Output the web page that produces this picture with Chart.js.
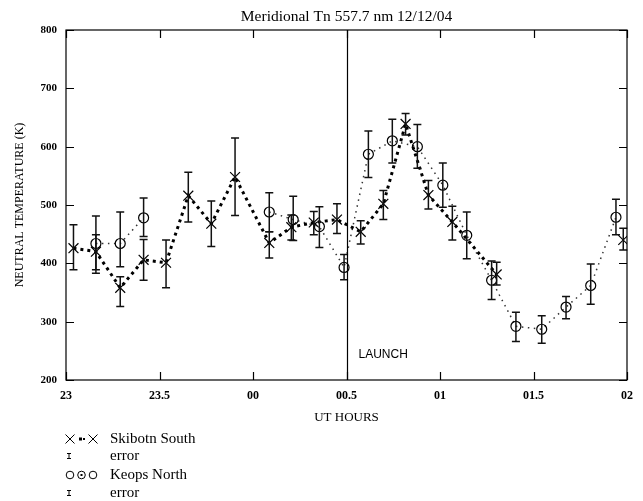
<!DOCTYPE html>
<html>
<head>
<meta charset="utf-8">
<script src="https://cdn.jsdelivr.net/npm/chart.js@4.4.1/dist/chart.umd.min.js"></script>
<style>
html,body{margin:0;padding:0;background:#fff;}
#wrap{width:643px;height:501px;position:relative;}
</style>
</head>
<body>
<div id="wrap"><canvas id="c" width="643" height="501"></canvas></div>
<script>
// ---- data (UT hours expressed as 23..26, i.e. 02 UT = 26) ----
const chartTitle = "Meridional Tn 557.7 nm 12/12/04";
const xTickValues = [23, 23.5, 24, 24.5, 25, 25.5, 26];
const xTickLabels = ["23", "23.5", "00", "00.5", "01", "01.5", "02"];
const yTickValues = [200, 300, 400, 500, 600, 700, 800];
const launchTime = 24.5;

const skibotnTimes = [23.04, 23.16, 23.29, 23.415, 23.535, 23.654, 23.777, 23.904, 24.087, 24.205, 24.325, 24.449, 24.576, 24.697, 24.816, 24.938, 25.066, 25.303, 25.6, 25.98];
const skibotnTemps = [426, 420, 358, 406, 401, 516, 468, 548, 435, 462, 470, 475, 454, 502, 639, 517, 471, 381, null, 440];
const skibotnLow   = [389, 389, 326, 371, 358, 471, 429, 482, 409, 440, 449, 451, 433, 475, 620, 493, 440, 363, null, 423];
const skibotnHigh  = [466, 449, 377, 441, 440, 556, 507, 615, 454, 483, 489, 502, 473, 525, 657, 542, 498, 402, null, 460];

const keopsTimes = [23.16, 23.29, 23.415, 23.75, 24.087, 24.215, 24.355, 24.487, 24.617, 24.745, 24.879, 25.015, 25.143, 25.276, 25.406, 25.544, 25.674, 25.806, 25.941];
const keopsTemps = [434, 434, 478, null, 488, 475, 463, 393, 587, 610, 600, 534, 448, 371, 292, 287, 325, 362, 479];
const keopsLow   = [383, 394, 446, null, 454, 439, 427, 372, 547, 572, 563, 496, 408, 338, 266, 263, 305, 330, 449];
const keopsHigh  = [481, 488, 512, null, 521, 515, 497, 415, 627, 647, 638, 572, 488, 404, 316, 310, 343, 399, 510];

const seriesNames = ["Skibotn South", "Keops North"];
const errorLabel = "error";

function pts(ts, vs){ return ts.map((t,i)=>({x:t, y:vs[i]})); }

const SERIF = '"Liberation Serif", "Times New Roman", serif';
const SANS = '"Liberation Sans", Arial, sans-serif';

const framePlugin = {
  id: 'frame',
  beforeDraw(chart){
    const ctx = chart.ctx;
    ctx.save(); ctx.fillStyle = '#fff'; ctx.fillRect(0,0,chart.width,chart.height); ctx.restore();
  },
  afterDatasetsDraw(chart){
    const {ctx, scales:{x, y}} = chart;
    ctx.save();
    ctx.strokeStyle = '#111';
    ctx.lineWidth = 1.5;
    const drawErr = (ts, lo, hi) => {
      ts.forEach((t,i)=>{
        if (lo[i] == null) return;
        const px = x.getPixelForValue(t);
        const y1 = y.getPixelForValue(lo[i]);
        const y2 = y.getPixelForValue(hi[i]);
        ctx.beginPath();
        ctx.moveTo(px, y1); ctx.lineTo(px, y2);
        ctx.moveTo(px-4, y1); ctx.lineTo(px+4, y1);
        ctx.moveTo(px-4, y2); ctx.lineTo(px+4, y2);
        ctx.stroke();
      });
    };
    drawErr(skibotnTimes, skibotnLow, skibotnHigh);
    drawErr(keopsTimes, keopsLow, keopsHigh);
    ctx.restore();
  },
  afterDraw(chart){
    const {ctx, chartArea:a, scales:{x, y}} = chart;
    ctx.save();
    ctx.strokeStyle = '#000';
    ctx.lineWidth = 1.2;
    ctx.strokeRect(a.left, a.top, a.right-a.left, a.bottom-a.top);
    ctx.beginPath();
    yTickValues.forEach(v=>{
      const py = Math.round(y.getPixelForValue(v))+0.5;
      ctx.moveTo(a.left, py); ctx.lineTo(a.left+8, py);
      ctx.moveTo(a.right, py); ctx.lineTo(a.right-8, py);
    });
    xTickValues.forEach(v=>{
      const px = Math.round(x.getPixelForValue(v))+0.5;
      ctx.moveTo(px, a.bottom); ctx.lineTo(px, a.bottom-8);
      ctx.moveTo(px, a.top); ctx.lineTo(px, a.top+8);
    });
    ctx.stroke();
    const lx = Math.round(x.getPixelForValue(launchTime))+0.5;
    ctx.beginPath(); ctx.moveTo(lx, a.top); ctx.lineTo(lx, a.bottom); ctx.stroke();
    ctx.fillStyle = '#000';
    ctx.font = '12px ' + SANS;
    ctx.textAlign = 'left'; ctx.textBaseline = 'middle';
    ctx.fillText('LAUNCH', lx + 11, 355);
    ctx.font = '15.5px ' + SERIF;
    ctx.textAlign = 'center';
    ctx.fillText(chartTitle, (a.left + a.right)/2, 17);
    const lx0 = 70, tx = 110;
    const rows = [439, 456, 475, 493];
    ctx.textAlign = 'left';
    ctx.font = '15px ' + SERIF;
    ctx.fillText(seriesNames[0], tx, rows[0]);
    ctx.fillText(errorLabel, tx, rows[1]);
    ctx.fillText(seriesNames[1], tx, rows[2]);
    ctx.fillText(errorLabel, tx, rows[3]);
    ctx.lineWidth = 1;
    const xmark = (cx, cy, r) => { ctx.beginPath(); ctx.moveTo(cx-r,cy-r); ctx.lineTo(cx+r,cy+r); ctx.moveTo(cx-r,cy+r); ctx.lineTo(cx+r,cy-r); ctx.stroke(); };
    xmark(lx0, rows[0], 4.5); xmark(lx0+23, rows[0], 4.5);
    ctx.fillRect(lx0+9, rows[0]-1.5, 3, 3);
    ctx.fillRect(lx0+13, rows[0]-1, 2, 2);
    const ibar = (cx, cy) => { ctx.beginPath(); ctx.moveTo(cx, cy-2.5); ctx.lineTo(cx, cy+2.5); ctx.moveTo(cx-2,cy-2.5); ctx.lineTo(cx+2,cy-2.5); ctx.moveTo(cx-2,cy+2.5); ctx.lineTo(cx+2,cy+2.5); ctx.stroke(); };
    ibar(lx0-1, rows[1]); ibar(lx0-1, rows[3]);
    [lx0, lx0+11.5, lx0+23].forEach(cx=>{ ctx.beginPath(); ctx.arc(cx, rows[2], 3.8, 0, Math.PI*2); ctx.stroke(); });
    ctx.fillRect(lx0+10.5, rows[2]-1, 2, 2);
    ctx.restore();
  }
};

new Chart(document.getElementById('c'), {
  type: 'line',
  data: {
    datasets: [
      {
        label: seriesNames[0],
        data: pts(skibotnTimes, skibotnTemps),
        borderColor: '#000',
        borderWidth: 3,
        borderDash: [3, 4],
        pointStyle: 'crossRot',
        pointRadius: 7,
        pointBorderWidth: 1.2,
        pointBorderColor: '#000',
        pointBackgroundColor: 'rgba(0,0,0,0)',
        spanGaps: false,
        tension: 0
      },
      {
        label: seriesNames[1],
        data: pts(keopsTimes, keopsTemps),
        borderColor: '#333',
        borderWidth: 1.5,
        borderDash: [1.5, 4.5],
        pointStyle: 'circle',
        pointRadius: 5,
        pointBorderWidth: 1.2,
        pointBorderColor: '#000',
        pointBackgroundColor: 'rgba(0,0,0,0)',
        spanGaps: false,
        tension: 0
      }
    ]
  },
  options: {
    responsive: false,
    animation: false,
    devicePixelRatio: 1,
    layout: { padding: { top: 30, right: 16, left: 0, bottom: 0 } },
    plugins: { legend: { display: false }, tooltip: { enabled: false }, title: { display: false } },
    scales: {
      x: {
        type: 'linear', min: 23, max: 26,
        afterFit(s){ s.height = 121; },
        afterBuildTicks(s){ s.ticks = xTickValues.map(v=>({value:v})); },
        grid: { display: false, drawTicks: false },
        border: { display: false },
        ticks: {
          padding: 9, color: '#000', maxRotation: 0, autoSkip: false,
          font: { family: SERIF, size: 12, weight: 'bold' },
          callback(v){ const i = xTickValues.indexOf(v); return i >= 0 ? xTickLabels[i] : ''; }
        },
        title: { display: true, text: 'UT HOURS', color: '#000', font: { family: SERIF, size: 13 }, padding: { top: 0, bottom: 76 } }
      },
      y: {
        type: 'linear', min: 200, max: 800,
        afterFit(s){ s.width = 66; },
        afterBuildTicks(s){ s.ticks = yTickValues.map(v=>({value:v})); },
        grid: { display: false, drawTicks: false },
        border: { display: false },
        ticks: { padding: 9, color: '#000', font: { family: SERIF, size: 11, weight: 'bold' } },
        title: { display: true, text: 'NEUTRAL TEMPERATURE (K)', color: '#000', font: { family: SERIF, size: 12 }, padding: { top: 13, bottom: 0 } }
      }
    }
  },
  plugins: [framePlugin]
});
</script>
</body>
</html>
